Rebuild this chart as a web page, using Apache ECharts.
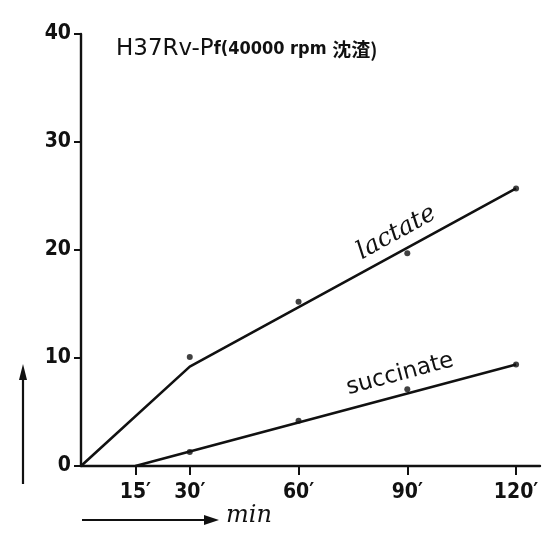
<!DOCTYPE html>
<html>
<head>
<meta charset="utf-8">
<script src="https://cdn.jsdelivr.net/npm/echarts@6/dist/echarts.min.js"></script>
<style>
  html, body {margin: 0; padding: 0; background: #fff;}
  #chart {width: 547px; height: 533px;}
</style>
</head>
<body>
<div id="chart"></div>
<script>
// minutes on x, amount on y
const xTicks = [15, 30, 60, 90, 120]
const yTicks = [0, 10, 20, 30, 40]

const lactateLine = [[0, 0], [30, 9.2], [120, 25.7]]
const lactatePoints = [[30, 10.1], [60, 15.2], [90, 19.7], [120, 25.7]]
const succinateLine = [[15, 0], [120, 9.4]]
const succinatePoints = [[30, 1.3], [60, 4.2], [90, 7.1], [120, 9.4]]

// where the hand-written series names sit, in data units
const lactateLabelAt = [87, 21.6]
const succinateLabelAt = [88, 8.5]

const font = '"Liberation Sans Narrow", "DejaVu Sans Condensed", "DejaVu Sans", sans-serif'
const ink = '#111'

const chart = echarts.init(document.getElementById('chart'))

const lineSeries = (name, data) => ({
    name: name,
    type: 'line',
    data: data,
    symbol: 'none',
    lineStyle: {color: ink, width: 2.6},
    animation: false,
    z: 3
})
const dotSeries = (name, data) => ({
    name: name,
    type: 'scatter',
    data: data,
    symbol: 'circle',
    symbolSize: 6,
    itemStyle: {color: ink},
    animation: false,
    z: 4
})

chart.setOption({
    animation: false,
    grid: {left: 81, right: 7, top: 34, bottom: 67},
    xAxis: {
        type: 'value',
        min: 0,
        max: 126.6,
        splitLine: {show: false},
        axisLine: {lineStyle: {color: ink, width: 2.4}},
        axisTick: {show: true, customValues: xTicks, length: 9, inside: false, lineStyle: {color: ink, width: 2}},
        axisLabel: {
            customValues: xTicks,
            formatter: v => v + '′',
            color: ink,
            fontFamily: font,
            fontWeight: 'bold',
            fontSize: 21,
            margin: 16
        }
    },
    yAxis: {
        type: 'value',
        min: 0,
        max: 40,
        interval: 10,
        splitLine: {show: false},
        axisLine: {show: true, lineStyle: {color: ink, width: 2.4}},
        axisTick: {show: true, length: 7, lineStyle: {color: ink, width: 2}},
        axisLabel: {
            color: ink,
            fontFamily: font,
            fontWeight: 'bold',
            fontSize: 21,
            margin: 10,
            showMinLabel: true,
            customValues: yTicks
        }
    },
    series: [
        lineSeries('lactate', lactateLine),
        dotSeries('lactate points', lactatePoints),
        lineSeries('succinate', succinateLine),
        dotSeries('succinate points', succinatePoints)
    ]
})

const [lx, ly] = chart.convertToPixel({gridIndex: 0}, lactateLabelAt)
const [sx, sy] = chart.convertToPixel({gridIndex: 0}, succinateLabelAt)

chart.setOption({
    graphic: [
        {
            type: 'text', left: 116, top: 38,
            style: {
                rich: {
                    a: {fontFamily: '"DejaVu Sans", sans-serif', fontSize: 23, fill: ink},
                    b: {fontFamily: font, fontSize: 18, fill: ink, fontWeight: 'bold'},
                    c: {fontFamily: '"Noto Sans CJK JP", sans-serif', fontSize: 19, fill: ink, fontWeight: 'bold'}
                },
                text: '{a|H37Rv-P}{b|f(40000 rpm }{c|沈渣)}'
            }
        },
        {
            type: 'text', x: lx, y: ly, rotation: 29 * Math.PI / 180,
            style: {
                text: 'lactate', fontFamily: '"DejaVu Serif", serif', fontStyle: 'italic',
                fontSize: 25, fill: ink, align: 'center', verticalAlign: 'middle'
            }
        },
        {
            type: 'text', x: sx, y: sy, rotation: 15 * Math.PI / 180,
            style: {
                text: 'succinate', fontFamily: '"DejaVu Sans", sans-serif',
                fontSize: 23, fill: ink, align: 'center', verticalAlign: 'middle'
            }
        },
        // arrow under the x axis and its unit
        {
            type: 'line', shape: {x1: 82, y1: 520, x2: 212, y2: 520},
            style: {stroke: ink, lineWidth: 2.2}
        },
        {
            type: 'polygon', shape: {points: [[219, 520], [204, 515], [204, 525]]},
            style: {fill: ink}
        },
        {
            type: 'text', left: 226, top: 504,
            style: {text: 'min', fontFamily: '"DejaVu Serif", serif', fontStyle: 'italic', fontSize: 24, fill: ink}
        },
        // arrow on the left
        {
            type: 'line', shape: {x1: 23, y1: 484, x2: 23, y2: 372},
            style: {stroke: ink, lineWidth: 2.2}
        },
        {
            type: 'polygon', shape: {points: [[23, 364], [19, 380], [27, 380]]},
            style: {fill: ink}
        }
    ]
})
</script>
</body>
</html>
